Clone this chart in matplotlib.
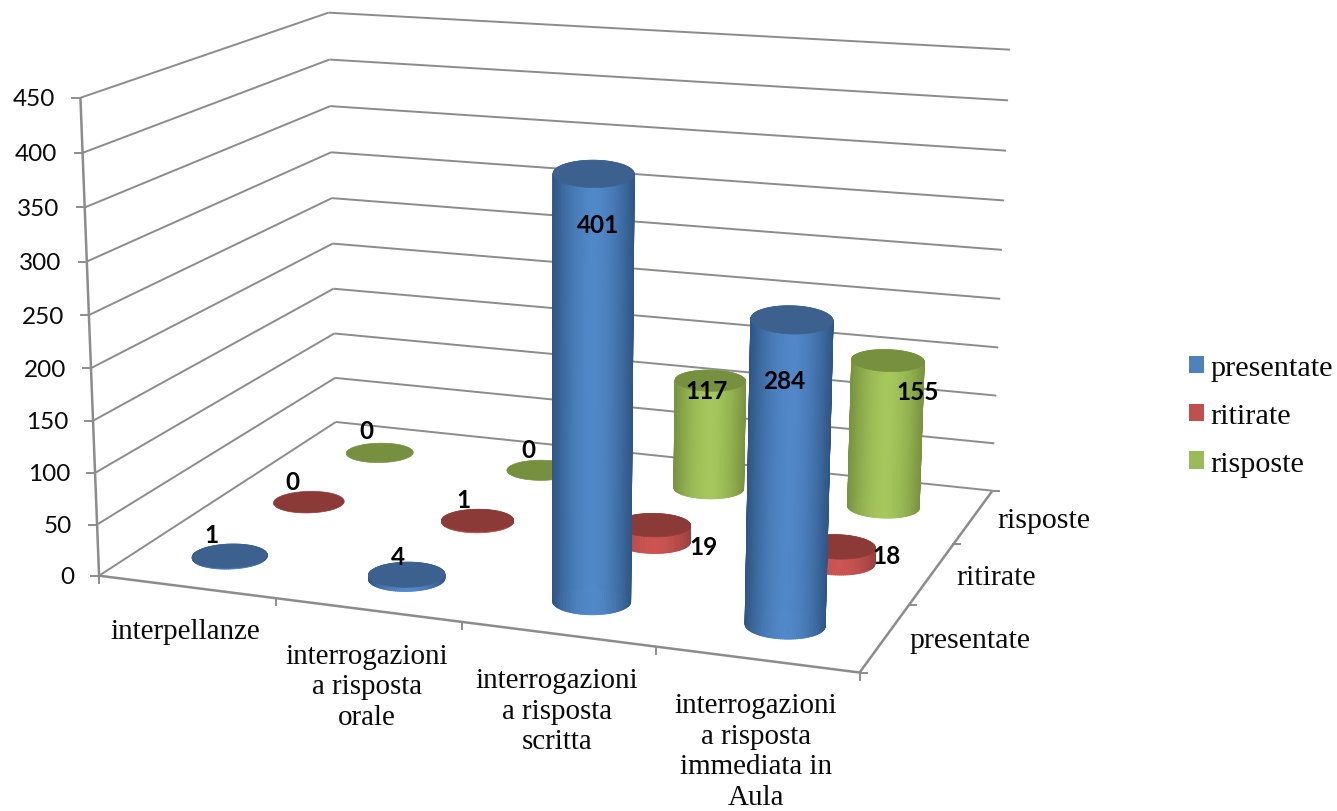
import numpy as np
import matplotlib
matplotlib.use("Agg")
import matplotlib.pyplot as plt
from matplotlib.patches import Patch, Polygon
from matplotlib.collections import PolyCollection
from matplotlib.colors import to_rgb

categories = ["interpellanze", "interrogazioni\na risposta\norale",
              "interrogazioni\na risposta\nscritta",
              "interrogazioni\na risposta\nimmediata in\nAula"]
series_names = ["presentate", "ritirate", "risposte"]
presentate = [1, 4, 401, 284]
ritirate = [0, 1, 19, 18]
risposte = [0, 0, 117, 155]
z_ticks = list(range(0, 451, 50))

# Camera of the 3D box: model corners (category, series, value) and where they land on the canvas
box_model = np.array([[0, 0, 0], [4, 0, 0], [4, 3, 0], [0, 3, 0],
                      [0, 0, 450], [0, 3, 450], [4, 3, 450]], float)
box_canvas = np.array([[100, 577], [859, 674], [993, 491], [335, 423],
                       [80, 98], [329, 14], [1010, 51]], float)


def fit_camera(model, canvas):
    rows = []
    for (x, y, z), (u, v) in zip(model, canvas):
        rows.append([x, y, z, 1, 0, 0, 0, 0, -u * x, -u * y, -u * z, -u])
        rows.append([0, 0, 0, 0, x, y, z, 1, -v * x, -v * y, -v * z, -v])
    scale = np.array([1, 1, 0.01, 1, 1, 1, 0.01, 1, 1, 1, 0.01, 1])
    _, _, vt = np.linalg.svd(np.array(rows) / scale)
    return (vt[-1] / scale).reshape(3, 4)


CAM = fit_camera(box_model, box_canvas)


def project(x, y, z):
    x, y, z = np.broadcast_arrays(x, y, z)
    pts = np.stack([x, y, z, np.ones_like(x, dtype=float)], axis=-1) @ CAM.T
    return pts[..., 0] / pts[..., 2], pts[..., 1] / pts[..., 2]


fig = plt.figure(figsize=(13.37, 8.12), dpi=100)
ax = fig.add_axes([0, 0, 1, 1])
ax.set_xlim(0, 1337)
ax.set_ylim(812, 0)
ax.axis("off")

GRID = "#8c8c8c"
SERIF = "Liberation Serif"
SANS = "Lato"
TEXT = "#0a0a0a"


def seg(a, b, lw=1.4):
    u, v = project(np.array([a[0], b[0]], float), np.array([a[1], b[1]], float), np.array([a[2], b[2]], float))
    ax.plot(u, v, color=GRID, lw=lw, solid_capstyle="butt", zorder=1)


# Walls, floor edges and ticks
for z in z_ticks:
    seg((0, 0, z), (0, 3, z))
    seg((0, 3, z), (4, 3, z))
    u, v = project(0.0, 0.0, float(z))
    ax.plot([u - 8, u], [v, v], color=GRID, lw=1.4, zorder=1)
    ax.text(u - 25, v + 1, str(z), ha="right", va="center", family=SANS, fontsize=17.5, color=TEXT)
seg((0, 0, 0), (0, 0, 450), lw=1.8)
seg((0, 0, 0), (4, 0, 0), lw=1.8)
seg((4, 0, 0), (4, 3, 0), lw=1.8)

for i in range(5):
    u, v = project(float(i), 0.0, 0.0)
    ax.plot([u, u], [v, v + 7], color=GRID, lw=1.4, zorder=1)
for s in range(4):
    u, v = project(4.0, float(s), 0.0)
    ax.plot([u, u + 7], [v, v], color=GRID, lw=1.4, zorder=1)

for i, cat in enumerate(categories):
    u, v = project(i + 0.5, 0.0, 0.0)
    ax.text(u - 1, v + (31 if i == 0 else 33), cat, ha="center", va="top", family=SERIF, fontsize=20.9,
            linespacing=1.22, color=TEXT)
for s, name in enumerate(series_names):
    u, v = project(4.0, s + 0.5, 0.0)
    ax.text(u + 24, v + 3, name, ha="left", va="center", family=SERIF, fontsize=21.5, color=TEXT)

# Cylinders: the cap keeps the footprint's shape, only scaled with the width at its height
RADIUS = 0.195
THETA = np.linspace(0, 2 * np.pi, 121)
legend_colors = ["#4f81bd", "#c0504d", "#9bbb59"]
cap_colors = ["#3d618f", "#8c3a38", "#76903f"]
edge_colors = ["#2f5583", "#9a3f3d", "#78923f"]
mid_colors = ["#5188c9", "#cc5451", "#a5c75c"]
values = [presentate, ritirate, risposte]
draw_count = [0]


def next_z():
    draw_count[0] += 1
    return 2 + draw_count[0] * 0.01


def cap_drop(value):
    # Slight lowering of tall caps so the thick ellipse sits on the body
    return 2 + 0.012 * value if value > 5 else 0.0


def cylinder(cx, cy, value, s):
    xs = cx + RADIUS * np.cos(THETA)
    ys = cy + RADIUS * np.sin(THETA)
    u0, v0 = project(xs, ys, 0.0)
    cu0, cv0 = project(cx, cy, 0.0)
    cu1, cv1 = project(cx, cy, float(value))
    ux, _ = project(xs, ys, float(value))
    ratio = (ux.max() - ux.min()) / (u0.max() - u0.min())
    u1 = cu1 + (u0 - cu0) * ratio
    v1 = cv1 + cap_drop(value) + (v0 - cv0) * ratio
    lo, hi = u0.min(), u0.max()
    edge, mid = np.array(to_rgb(edge_colors[s])), np.array(to_rgb(mid_colors[s]))
    if value > 0:
        polys, cols = [], []
        for k in np.argsort(-(ys[:-1] + ys[1:])):
            polys.append([(u0[k], v0[k]), (u0[k + 1], v0[k + 1]), (u1[k + 1], v1[k + 1]), (u1[k], v1[k])])
            t = (0.5 * (u0[k] + u0[k + 1]) - lo) / (hi - lo)
            w = 1 - abs(2 * t - 1) ** 1.7
            cols.append(edge + (mid - edge) * w)
        ax.add_collection(PolyCollection(polys, facecolors=cols, edgecolors=cols, linewidths=0.6, zorder=next_z()))
    ax.add_patch(Polygon(np.column_stack([u1, v1]), closed=True, facecolor=cap_colors[s],
                         edgecolor=cap_colors[s], lw=0.5, zorder=next_z()))


for s in (2, 1, 0):
    for i in range(len(categories)):
        cylinder(i + 0.5, s + 0.5, values[s][i], s)

# Value labels: offset in canvas units from the top of each cylinder
label_offsets = {
    (0, 0): (-18, -21), (1, 0): (-9, -18), (2, 0): (4, 58), (3, 0): (-8, 66),
    (0, 1): (-16, -21), (1, 1): (-14, -21), (2, 1): (50, 24), (3, 1): (49, 11),
    (0, 2): (-13, -22), (1, 2): (-13, -21), (2, 2): (-4, 13), (3, 2): (30, 35),
}
for (i, s), (dx, dy) in label_offsets.items():
    u, v = project(i + 0.5, s + 0.5, float(values[s][i]))
    ax.text(u + dx, v + dy, str(values[s][i]), ha="center", va="center", family=SANS,
            fontweight="bold", fontsize=17.5, color="black", zorder=5)

handles = [Patch(facecolor=c, edgecolor=c, lw=0) for c in legend_colors]
ax.legend(handles, series_names, loc="center left", bbox_to_anchor=(1189 / 1337, 1 - 417 / 812),
          bbox_transform=fig.transFigure, frameon=False, borderpad=0, borderaxespad=0,
          prop={"family": SERIF, "size": 21.8}, handlelength=0.5, handleheight=0.5,
          handletextpad=0.2, labelspacing=0.72, labelcolor=TEXT)

fig.savefig("out.png", dpi=100)
